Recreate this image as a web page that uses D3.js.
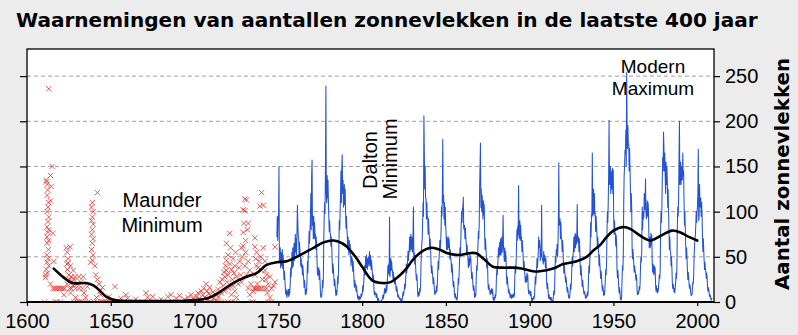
<!DOCTYPE html>
<html><head><meta charset="utf-8">
<script src="https://cdn.jsdelivr.net/npm/d3@7"></script>
<style>
html,body{margin:0;padding:0;background:#ececec;}
svg{display:block;}
</style></head><body>
<svg id="chart" width="798" height="335"></svg>
<script>
// Axis ticks
const yearTicks = [1600, 1650, 1700, 1750, 1800, 1850, 1900, 1950, 2000];
const countTicks = [0, 50, 100, 150, 200, 250];

// Early telescope observations (year, sunspot count), 1610-1749
const obsYears = [
  1611.5,1612,1612.3,1612,1613,1612.5,1612,1613,1612.5,1612,1613,1612.5,1612,1613,1612,1612.8,1611.8,1612.5,1612,1613,1611.5,1612.2,1611,1613,1615,1614.5,1614,1615.5,1616,1610.5,1611,1614,1614,1611.6,
  1615.5,1616.5,1617.5,1618.5,1619.5,1620.5,1621.5,1622.5,1625.5,1626.5,1629,1631,1617,1618,1620,1628,1630,1631,1632,1633,
  1623.5,1624,1624.5,1623.8,1624.2,1625,1625.5,1624,1626,1626.5,1627,1627.5,1628,1622,1626,1630,1631,1632,1633,1634,1635,1629,1625.7,1624.6,1627.6,1628.6,1633.5,1636,1636.5,
  1639,1638.5,1639.5,1639,1638.5,1639.5,1639,1638.5,1639.5,1639,1638.5,1639.5,1639,1638,1640.5,1642,1641,1642,1643,1643.5,1644,1645,1641.5,1640,1642,
  1644,1645,1646,1647,1648,1649,1650,1651,1653,1654,1655,1656,1658,1660,1661,1666,1672,1676,1684,1689,1693,1697,
  1652.5,1649,1656,1659,1660,1665,1671,1672,1675,1680,1684,1686,1689,1691,1694,1696,1698,1699,
  1700,1701,1702,1703,1704,1705,1705.5,1706,1707,1707.5,1708,1708.5,1709,1710,1710,1711,1711.5,1712,1712.5,1713,1714,1714.5,1715,1703,1706,1709,1713.5,1716,
  1716,1716.5,1717,1717.5,1718,1718,1718.5,1719,1719,1719.5,1719,1720,1720,1720.5,1721,1721,1721.5,1722,1722,1722.5,1723,1723,1723.5,1724,1724,1724.5,1725,1725,1726,1726.5,1720,1722,1724,
  1727,1727.5,1728,1728,1728.5,1729,1729.5,1729,1730,1730.5,1730,1731,1730.5,1731,1731.5,1732,1732,1733,1733,1733.5,1734,1735,1735,1736,1736,1736.5,1736,1737,1737,1737.5,1738,1738,1738.5,1739,1739.5,1740,1740,1740.5,1741,1741,1741.5,1742,1742,1742.5,1743,1743,1743.5,1744,1744,1745,1745,1746,1746,1747,1748,1748,1735.5,1736,1737,1739,1740,1729,1732,1730
];
const obsCounts = [
  135,130,124,118,110,105,100,94,89,83,80,77,72,68,65,58,52,48,44,40,36,32,27,236,150,128,112,76,45,0,30,20,140,133,
  15,15,15,15,15,15,15,15,15,15,15,15,0,0,0,0,0,0,0,0,
  60,55,48,42,36,30,25,20,40,28,22,18,25,8,10,20,28,22,15,10,5,5,61,43,35,28,28,17,0,
  110,105,100,94,90,86,80,75,70,65,58,52,46,44,40,121,30,25,20,12,8,16,5,0,0,
  0,0,0,0,0,0,0,0,0,0,0,0,0,0,0,0,0,0,0,0,0,0,
  17,6,4,8,4,3,10,5,6,3,6,8,4,7,3,5,8,4,
  2,6,10,4,12,8,15,5,20,12,3,9,16,6,0,11,4,0,8,2,14,6,22,0,0,0,0,0,
  10,25,18,33,28,12,40,46,35,22,65,52,30,15,76,42,60,36,8,25,48,18,32,40,12,55,28,5,20,38,0,0,0,
  45,30,60,22,50,77,87,62,101,68,40,113,55,30,80,45,15,35,8,20,0,0,12,71,61,48,30,55,40,20,38,15,45,106,50,121,35,25,107,60,15,35,45,25,30,15,10,20,0,28,5,15,0,18,61,22,15,15,15,15,15,102,87,114
];

// Sunspot counts sampled four times per year, from 1749 onward
const seriesStart = 1749;
const samplesPerYear = 4;
const sunspotSeries = [
  72,95,68,90, 95,150,45,52, 60,38,55,40, 42,58,37,52, 38,25,34,26, 18,9,14,8, 5,12,8,14, 6,14,8,12, 22,38,28,42, 55,38,60,40,
  48,65,46,58, 75,55,70,52, 78,107,88,72, 70,52,66,57, 52,40,48,38, 42,30,40,33, 26,16,24,18, 8,14,9,13, 25,45,32,50, 60,78,65,80,
  88,120,80,140, 157,85,95,70, 95,70,88,72, 75,58,72,60, 42,30,38,30, 38,25,35,24, 10,5,8,6, 12,24,16,28, 70,95,110,98, 150,239,120,110,
  140,115,135,112, 95,78,90,76, 75,62,72,62, 45,32,42,36, 28,18,25,20, 12,7,13,8, 15,28,20,32, 60,90,80,100, 120,145,110,150, 163,120,135,105,
  110,130,108,125, 100,82,95,82, 75,58,72,60, 52,68,55,64, 54,40,50,44, 48,34,45,38, 26,16,24,18, 20,12,18,13, 8,4,7,5, 2,6,3,5,
  4,9,6,8, 10,18,12,19, 28,40,30,38, 50,38,52,40, 36,48,40,50, 42,56,40,52, 48,36,46,38, 32,24,30,26, 12,8,11,9, 10,5,9,7,
  3,1,4,2, 0,0,0,0, 0,2,1,3, 3,8,4,6, 9,15,10,14, 10,18,12,16, 28,40,32,42, 30,94,28,36, 48,35,45,36, 35,26,33,26,
  28,20,26,22, 19,12,17,14, 8,5,8,6, 5,3,4,4, 1,3,0,2, 6,11,7,10, 13,20,15,19, 30,42,32,40, 44,56,46,54, 58,72,56,70,
  75,58,72,62, 55,75,105,50, 55,42,52,42, 32,24,30,24, 10,6,11,7, 8,15,11,18, 40,55,65,70, 90,110,95,206, 165,125,150,115, 115,92,110,95,
  95,75,92,80, 72,58,70,60, 42,32,40,34, 28,20,27,22, 13,8,12,10, 10,18,12,20, 32,45,36,48, 55,68,58,66, 80,105,95,118, 180,110,118,92,
  110,85,105,85, 75,58,72,60, 58,72,60,70, 62,48,58,48, 45,33,42,35, 25,17,23,18, 8,5,9,6, 3,5,2,6, 15,26,20,30, 45,60,50,66,
  85,100,88,104, 105,116,82,80, 85,70,82,72, 66,52,63,55, 50,38,48,40, 42,54,44,48, 35,26,33,28, 19,13,18,14, 5,9,6,9, 28,40,35,48,
  62,78,70,86, 125,150,176,105, 125,100,118,102, 92,112,96,108, 75,58,70,60, 52,38,48,40, 20,14,19,15, 14,8,13,10, 10,15,9,14, 4,2,5,2,
  3,8,5,9, 25,36,30,38, 48,60,50,58, 66,52,70,52, 58,72,55,70, 96,60,55,45, 60,45,56,48, 30,20,28,22, 16,10,14,11, 8,5,9,6,
  4,8,5,8, 5,9,6,8, 28,40,32,42, 60,80,68,84, 75,129,72,70, 90,68,85,70, 72,56,68,58, 48,36,45,38, 30,22,28,24, 22,32,24,30,
  15,9,13,11, 11,7,12,8, 2,4,1,4, 3,6,4,7, 18,28,20,30, 36,48,38,46, 55,72,60,68, 62,46,58,50, 107,50,48,45, 42,56,45,52,
  50,38,48,40, 22,15,21,16, 7,4,8,4, 3,5,2,5, 2,0,2,1, 6,12,8,14, 38,50,44,58, 52,64,50,62, 90,154,85,88, 92,70,88,72,
  70,56,68,60, 44,32,42,34, 30,22,28,24, 17,11,16,12, 7,4,7,5, 12,20,14,22, 36,50,40,52, 58,72,56,70, 76,60,74,64, 70,108,68,66,
  72,56,70,60, 42,30,40,32, 25,17,24,18, 13,9,12,10, 7,4,7,5, 6,11,7,11, 28,40,32,44, 65,88,72,95, 100,165,95,98, 125,98,120,96,
  98,78,95,84, 76,60,72,64, 55,40,52,42, 35,26,34,28, 19,13,18,14, 7,12,8,13, 25,36,30,42, 75,100,88,110, 140,201,130,138, 150,120,145,128,
  125,148,120,146, 95,75,90,76, 76,62,74,64, 36,27,35,28, 17,10,16,12, 3,5,2,6, 25,40,35,52, 110,140,150,168, 165,190,150,254, 200,170,195,175,
  175,145,170,148, 125,100,120,104, 60,48,58,50, 42,33,40,35, 32,24,30,26, 12,8,11,9, 11,17,13,19, 38,50,44,56, 105,80,100,92, 95,120,102,108,
  136,100,92,96, 112,95,110,102, 75,60,72,60, 62,76,64,74, 44,33,42,34, 30,40,32,38, 19,12,18,13, 10,15,11,16, 22,30,26,34, 80,100,88,104,
  135,160,145,188, 170,145,165,140, 120,155,130,150, 135,105,125,100, 80,58,72,56, 55,40,50,38, 22,15,20,16, 11,15,10,16, 22,32,26,38, 85,105,95,115,
  160,200,130,145, 155,130,150,136, 135,165,140,145, 110,85,100,82, 62,48,60,50, 35,25,33,27, 20,15,19,16, 10,7,9,8, 15,22,20,29, 50,62,70,74,
  85,100,88,100, 105,120,169,90, 95,130,110,105, 115,95,110,96, 72,56,70,58, 45,36,44,36, 34,26,32,28, 17,12,16,14, 9,6,8,7, 3,2,4,3
];

// Smoothed long-term average
const smoothYears = [1616,1622,1627,1635,1639,1642,1648,1654,1660,1670,1680,1690,1699,1705,1709,1715,1723,1731,1737,1743,1749,1755,1761,1771,1777,1783,1788,1791,1796,1800,1806,1812,1817,1821,1826,1830,1835,1841,1846,1851,1858,1864,1868,1873,1878,1884,1890,1895,1902,1906,1914,1920,1928,1934,1938,1942,1946,1950,1956,1960,1964,1968,1972,1978,1985,1990,1995,2000];
const smoothCounts = [37,27,21,21,19,15,5,1.5,1,1,1,1,2,3,5,11,21,28,32,41,44,45,50,60,66,68,65,61,50,39,24,21,22,27,36,46,55,60,58,54,52,54,54,47,39,38,38,37,34,34,37,42,45,50,57,63,72,79,83,81,76,71,68,73,79,77,72,68];

const titleText = "Waarnemingen van aantallen zonnevlekken in de laatste 400 jaar";
const axisTitle = "Aantal zonnevlekken";

const svg = d3.select("#chart");
const W = 798, H = 335;
const plot = {left: 27, right: 714, top: 49, bottom: 302};

const x = d3.scaleLinear().domain([1600, 2010]).range([plot.left, plot.right]);
const y = d3.scaleLinear().domain([0, 280]).range([plot.bottom, plot.top]);

svg.append("rect").attr("width", W).attr("height", H).attr("fill", "#ececec");

// Title, fitted to its width
const title = svg.append("text")
  .attr("x", 16).attr("y", 27)
  .attr("font-family", "'DejaVu Sans', Verdana, sans-serif")
  .attr("font-weight", "bold").attr("font-size", 18)
  .attr("fill", "#000").text(titleText);
{
  const w = title.node().getComputedTextLength();
  title.attr("font-size", 18 * 742 / w);
}

svg.append("defs").append("clipPath").attr("id", "plotClip")
  .append("rect").attr("x", plot.left).attr("y", plot.top)
  .attr("width", plot.right - plot.left).attr("height", plot.bottom - plot.top);

svg.append("rect")
  .attr("x", plot.left).attr("y", plot.top)
  .attr("width", plot.right - plot.left).attr("height", plot.bottom - plot.top)
  .attr("fill", "#fff");

// Dashed grid
svg.append("g").selectAll("line").data(countTicks.filter(d => d > 0)).join("line")
  .attr("x1", plot.left).attr("x2", plot.right)
  .attr("y1", d => y(d)).attr("y2", d => y(d))
  .attr("stroke", "#a0a0a0").attr("stroke-width", 1)
  .attr("stroke-dasharray", "4,3");

const layer = svg.append("g").attr("clip-path", "url(#plotClip)");

// Early observations as crosses
const obs = obsYears.map((yr, i) => ({year: yr, count: obsCounts[i]}));
const r = 2.7;
layer.append("path")
  .attr("d", obs.map(d => {
    const cx = x(d.year), cy = y(d.count);
    return `M${cx - r},${cy - r}L${cx + r},${cy + r}M${cx - r},${cy + r}L${cx + r},${cy - r}`;
  }).join(""))
  .attr("fill", "none").attr("stroke", "#e62a26").attr("stroke-width", 0.9)
  .attr("stroke-opacity", 0.85);

// Sunspot series
const series = sunspotSeries.map((v, i) => ({year: seriesStart + (i + 0.5) / samplesPerYear, count: v}));
layer.append("path")
  .datum(series)
  .attr("d", d3.line().x(d => x(d.year)).y(d => y(d.count)))
  .attr("fill", "none").attr("stroke", "#2352d4").attr("stroke-width", 1.05)
  .attr("stroke-linejoin", "round");

// Smoothed curve
const smooth = smoothYears.map((yr, i) => ({year: yr, count: smoothCounts[i]}));
layer.append("path")
  .datum(smooth)
  .attr("d", d3.line().curve(d3.curveCatmullRom.alpha(0.5)).x(d => x(d.year)).y(d => y(d.count)))
  .attr("fill", "none").attr("stroke", "#000").attr("stroke-width", 2.6)
  .attr("stroke-linejoin", "round").attr("stroke-linecap", "round");

// Annotations, two lines each
const ann = svg.append("g")
  .attr("font-family", "'Liberation Sans', Arial, sans-serif")
  .attr("fill", "#000").attr("text-anchor", "middle");
function twoLines(g, lines, gap, size) {
  const t = g.append("text").attr("font-size", size);
  t.append("tspan").attr("x", 0).attr("dy", 0).text(lines[0]);
  t.append("tspan").attr("x", 0).attr("dy", gap).text(lines[1]);
  return t;
}
twoLines(ann.append("g").attr("transform", "translate(162,207)"), ["Maunder", "Minimum"], 25, 20);
twoLines(ann.append("g").attr("transform", "translate(377,160) rotate(-90)"), ["Dalton", "Minimum"], 20, 20)
  .select("tspan:nth-child(2)").attr("x", 1);
twoLines(ann.append("g").attr("transform", "translate(653,73)"), ["Modern", "Maximum"], 21.5, 19);

// Frame
svg.append("rect")
  .attr("x", plot.left).attr("y", plot.top)
  .attr("width", plot.right - plot.left).attr("height", plot.bottom - plot.top)
  .attr("fill", "none").attr("stroke", "#000").attr("stroke-width", 1.3);
svg.append("line")
  .attr("x1", plot.left).attr("x2", plot.right)
  .attr("y1", plot.bottom).attr("y2", plot.bottom)
  .attr("stroke", "#000").attr("stroke-width", 2);

// Axes
const styleAxis = g => {
  g.select(".domain").remove();
  g.selectAll(".tick line").attr("stroke", "#000").attr("stroke-width", 1.2);
  g.selectAll(".tick text").attr("fill", "#000")
    .attr("font-family", "'Liberation Sans', Arial, sans-serif").attr("font-size", 20);
};

svg.append("g").attr("transform", `translate(0,${plot.bottom})`)
  .call(d3.axisBottom(x).tickValues(yearTicks).tickFormat(d3.format("d")).tickSize(4).tickPadding(8))
  .call(styleAxis);

svg.append("g").attr("transform", `translate(${plot.right},0)`)
  .call(d3.axisRight(y).tickValues(countTicks).tickSize(6).tickPadding(5))
  .call(styleAxis);

svg.append("g").attr("transform", `translate(${plot.left},0)`)
  .call(d3.axisLeft(y).tickValues(countTicks).tickSize(7).tickFormat(""))
  .call(styleAxis);

// Right-hand axis title
const yTitle = svg.append("text")
  .attr("transform", "translate(789,174) rotate(-90)")
  .attr("text-anchor", "middle")
  .attr("font-family", "'DejaVu Sans', Verdana, sans-serif")
  .attr("font-weight", "bold").attr("font-size", 18)
  .attr("fill", "#000").text(axisTitle);
{
  const w = yTitle.node().getComputedTextLength();
  yTitle.attr("font-size", 18 * 232 / w);
}
</script>
</body></html>
